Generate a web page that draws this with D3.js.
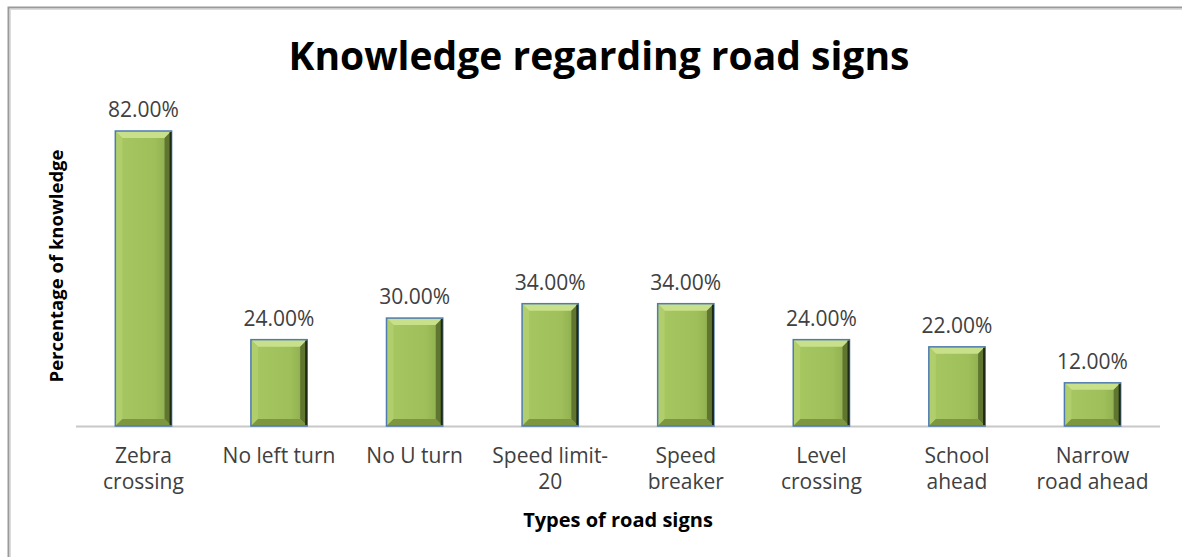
<!DOCTYPE html>
<html>
<head>
<meta charset="utf-8">
<script src="https://cdn.jsdelivr.net/npm/d3@7"></script>
<style>
  body { margin: 0; background: #fff; }
  svg { display: block; font-family: "Open Sans", Lato, sans-serif; }
</style>
</head>
<body>
<div id="chart"></div>
<script>
// Chart data
const categories = [
  ["Zebra", "crossing"],
  ["No left turn"],
  ["No U turn"],
  ["Speed limit-", "20"],
  ["Speed", "breaker"],
  ["Level", "crossing"],
  ["School", "ahead"],
  ["Narrow", "road ahead"]
];
const values = [82, 24, 30, 34, 34, 24, 22, 12];

const width = 1182, height = 557;
const margin = {top: 131, right: 22, bottom: 131, left: 76};
const innerW = width - margin.left - margin.right;
const innerH = height - margin.top - margin.bottom;

const svg = d3.select("#chart").append("svg")
    .attr("width", width)
    .attr("height", height);

// gradient for the bar face
const defs = svg.append("defs");
const face = defs.append("linearGradient").attr("id", "face")
    .attr("x1", 0).attr("x2", 1).attr("y1", 0).attr("y2", 0);
face.append("stop").attr("offset", "0%").attr("stop-color", "#a6c761");
face.append("stop").attr("offset", "70%").attr("stop-color", "#9fbf5a");
face.append("stop").attr("offset", "100%").attr("stop-color", "#8aa84c");

// outer frame with a soft shadow
svg.append("rect")
    .attr("x", 8.5).attr("y", 7.5)
    .attr("width", width + 20).attr("height", height + 20)
    .attr("fill", "none")
    .attr("stroke", "#9a9a9a")
    .attr("stroke-width", 2);
svg.append("rect")
    .attr("x", 10.5).attr("y", 9.5)
    .attr("width", width + 20).attr("height", height + 20)
    .attr("fill", "none")
    .attr("stroke", "#dcdcdc")
    .attr("stroke-width", 1);

const g = svg.append("g")
    .attr("transform", `translate(${margin.left},${margin.top})`);

const x = d3.scaleBand()
    .domain(d3.range(categories.length))
    .range([0, innerW])
    .paddingInner(0.585)
    .paddingOuter(0.29);

const y = d3.scaleLinear()
    .domain([0, 82])
    .range([innerH, 0]);

// x axis line
g.append("line")
    .attr("x1", 0).attr("x2", innerW)
    .attr("y1", innerH + 0.5).attr("y2", innerH + 0.5)
    .attr("stroke", "#c8c8c8")
    .attr("stroke-width", 2);

// bars (bevelled look)
const bars = g.selectAll(".bar")
    .data(values)
    .join("g")
      .attr("class", "bar")
      .attr("transform", (d, i) => `translate(${x(i)},${y(d)})`);

const bw = x.bandwidth();
const bev = 7;

bars.append("rect")
    .attr("width", bw)
    .attr("height", d => innerH - y(d))
    .attr("fill", "url(#face)");

// top bevel
bars.append("path")
    .attr("d", `M0,0 L${bw},0 L${bw - bev},${bev} L${bev},${bev} Z`)
    .attr("fill", "#c8e08a");
// left bevel
bars.append("path")
    .attr("d", d => { const h = innerH - y(d); return `M0,0 L${bev},${bev} L${bev},${h - bev} L0,${h} Z`; })
    .attr("fill", "#b0cf6c");
// right bevel
bars.append("path")
    .attr("d", d => { const h = innerH - y(d); return `M${bw},0 L${bw},${h} L${bw - bev},${h - bev} L${bw - bev},${bev} Z`; })
    .attr("fill", "#5f7530");
// bottom bevel
bars.append("path")
    .attr("d", d => { const h = innerH - y(d); return `M0,${h} L${bev},${h - bev} L${bw - bev},${h - bev} L${bw},${h} Z`; })
    .attr("fill", "#7d9741");

// outline
bars.append("rect")
    .attr("width", bw)
    .attr("height", d => innerH - y(d))
    .attr("fill", "none")
    .attr("stroke", "#4f7bb0")
    .attr("stroke-width", 1.5);
bars.append("line")
    .attr("x1", bw - 1).attr("x2", bw - 1)
    .attr("y1", 1).attr("y2", d => innerH - y(d) - 1)
    .attr("stroke", "#1f2a14")
    .attr("stroke-width", 2);

// value labels
g.selectAll(".val")
    .data(values)
    .join("text")
      .attr("class", "val")
      .attr("x", (d, i) => x(i) + bw / 2)
      .attr("y", d => y(d) - 14)
      .attr("text-anchor", "middle")
      .style("font-size", "21px")
      .style("fill", "#404040")
      .text(d => d3.format(".2f")(d) + "%");

// category labels
const cat = g.selectAll(".cat")
    .data(categories)
    .join("text")
      .attr("class", "cat")
      .attr("x", (d, i) => x(i) + bw / 2)
      .attr("y", innerH + 37)
      .attr("text-anchor", "middle")
      .style("font-size", "21px")
      .style("fill", "#404040");
cat.selectAll("tspan")
    .data(d => d)
    .join("tspan")
      .attr("x", function() { return this.parentNode.getAttribute("x"); })
      .attr("dy", (d, i) => i === 0 ? 0 : 26)
      .text(d => d);

// axis titles
svg.append("text")
    .attr("x", 618)
    .attr("y", 527)
    .attr("text-anchor", "middle")
    .style("font-size", "20px")
    .style("font-weight", "bold")
    .style("fill", "#000")
    .text("Types of road signs");

svg.append("text")
    .attr("transform", "translate(63,266) rotate(-90)")
    .attr("text-anchor", "middle")
    .style("font-size", "18.5px")
    .style("font-weight", "bold")
    .style("fill", "#000")
    .text("Percentage of knowledge");

// title
svg.append("text")
    .attr("x", 599)
    .attr("y", 70)
    .attr("text-anchor", "middle")
    .style("font-size", "39px")
    .style("font-weight", "bold")
    .style("fill", "#000")
    .text("Knowledge regarding road signs");
</script>
</body>
</html>
